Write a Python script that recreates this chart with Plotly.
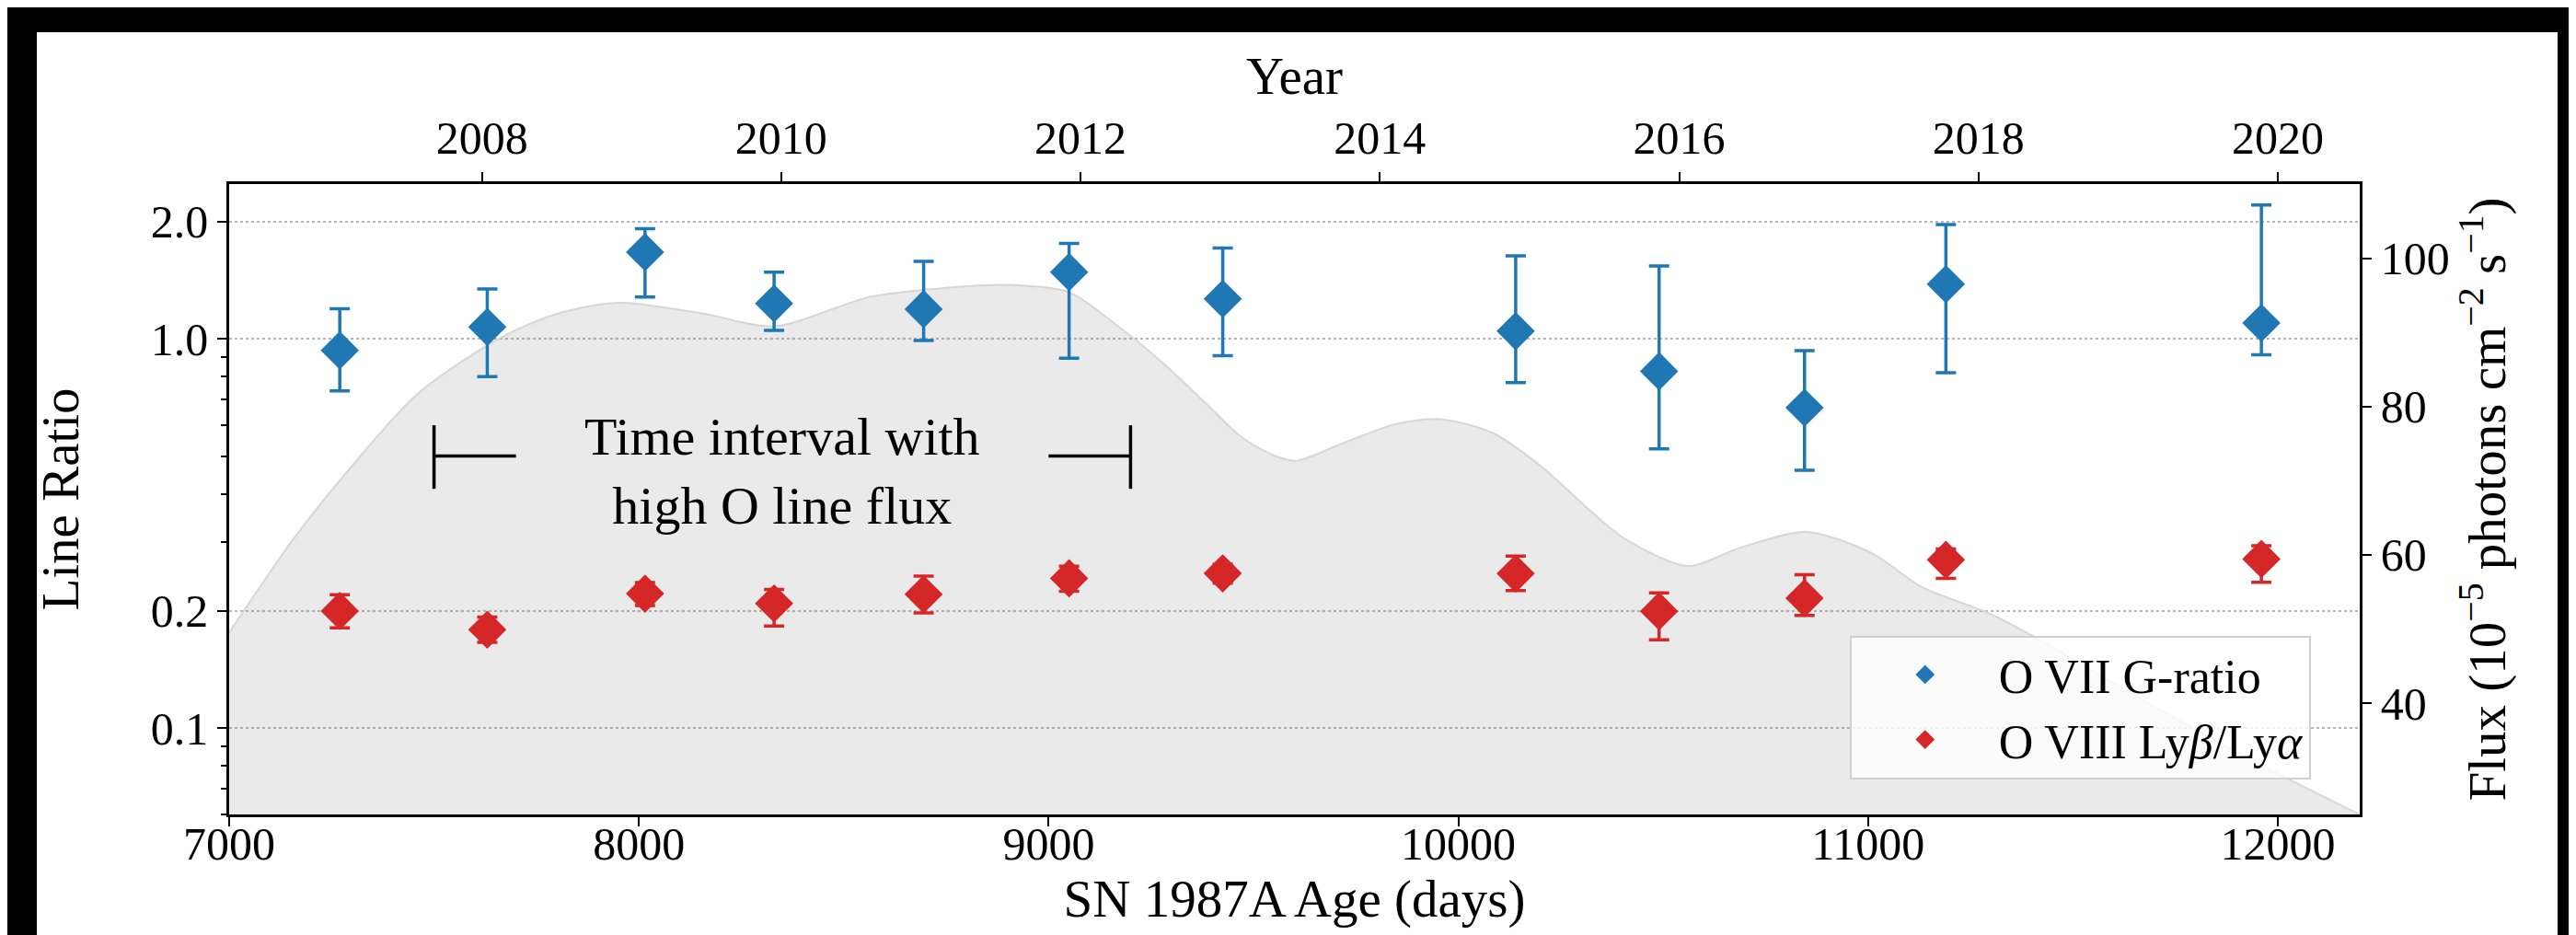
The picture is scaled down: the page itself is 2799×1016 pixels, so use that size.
import math
import plotly.graph_objects as go

# ---------------- data ----------------
age_days = [7270, 7630, 8015, 8330, 8695, 9050, 9425, 10140, 10490, 10845, 11190, 11960]

g_ratio = [0.935, 1.074, 1.671, 1.233, 1.193, 1.485, 1.268, 1.047, 0.826, 0.666, 1.383, 1.099]
g_err_plus = [0.26, 0.27, 0.25, 0.252, 0.389, 0.274, 0.444, 0.588, 0.713, 0.267, 0.585, 1.109]
g_err_minus = [0.20, 0.274, 0.39, 0.181, 0.202, 0.593, 0.363, 0.275, 0.304, 0.206, 0.564, 0.189]

lyb_lya = [0.200, 0.179, 0.2215, 0.209, 0.2207, 0.2426, 0.2497, 0.2496, 0.1997, 0.2157, 0.2706, 0.272]
l_err_plus = [0.020, 0.014, 0.015, 0.018, 0.025, 0.018, 0.014, 0.027, 0.023, 0.032, 0.018, 0.022]
l_err_minus = [0.019, 0.013, 0.015, 0.026, 0.023, 0.018, 0.014, 0.024, 0.031, 0.021, 0.028, 0.035]

flux_days = [7000, 7155, 7300, 7460, 7660, 7800, 7950, 8160, 8330, 8565, 8750, 8900,
             9050, 9170, 9270, 9390, 9470, 9550, 9605, 9725, 9845, 9955, 10085, 10205,
             10305, 10405, 10560, 10690, 10850, 11010, 11130, 11300, 11420, 11700, 12000, 12200]
flux_vals = [49.5, 62.0, 72.0, 81.7, 89.2, 92.5, 94.0, 92.5, 90.8, 94.8, 96.0, 96.4,
             95.4, 90.8, 86.3, 80.1, 75.9, 73.4, 72.7, 75.2, 77.6, 78.3, 76.4, 71.8,
             66.8, 62.2, 58.5, 61.0, 63.1, 60.2, 55.7, 52.0, 48.5, 39.5, 30.5, 25.0]

days_ticks = [7000, 8000, 9000, 10000, 11000, 12000]
year_ticks = [2008, 2010, 2012, 2014, 2016, 2018, 2020]
ratio_ticks = [0.1, 0.2, 1.0, 2.0]
ratio_ticklabels = ["0.1", "0.2", "1.0", "2.0"]
ratio_minor = [0.06, 0.07, 0.08, 0.09, 0.3, 0.4, 0.5, 0.6, 0.7, 0.8, 0.9]
flux_ticks = [40, 60, 80, 100]

sn_epoch_year = 1987.146
interval_start, interval_end = 7500, 9200

# ---------------- layout constants ----------------
W, H = 2799, 1016
ML, MR, MT, MB = 241, 243, 192, 139
FONT = "Liberation Serif"
BLUE, RED = "#1f77b4", "#d62728"
x_range = [7000, 12200]

year_days = [(y - sn_epoch_year) * 365.25 for y in year_ticks]

fig = go.Figure()

fig.add_trace(go.Scatter(
    x=flux_days, y=flux_vals, xaxis="x", yaxis="y",
    mode="lines", line=dict(color="#d6d6d6", width=2, shape="spline", smoothing=0.8),
    fill="tozeroy", fillcolor="rgba(125,125,125,0.16)", showlegend=False, hoverinfo="skip",
))

fig.add_trace(go.Scatter(
    x=age_days, y=g_ratio, xaxis="x2", yaxis="y2", mode="markers",
    name="O VII G-ratio",
    marker=dict(symbol="diamond", size=32, color=BLUE),
    error_y=dict(type="data", symmetric=False, array=g_err_plus, arrayminus=g_err_minus,
                 color=BLUE, thickness=3.5, width=11),
))
fig.add_trace(go.Scatter(
    x=age_days, y=lyb_lya, xaxis="x2", yaxis="y2", mode="markers",
    name="O VIII Ly<i>β</i>/Ly<i>α</i>",
    marker=dict(symbol="diamond", size=32, color=RED),
    error_y=dict(type="data", symmetric=False, array=l_err_plus, arrayminus=l_err_minus,
                 color=RED, thickness=3.5, width=11),
))

axis_common = dict(showline=True, linecolor="black", linewidth=2.5, ticks="outside",
                   ticklen=10, tickwidth=2, tickcolor="black", zeroline=False,
                   tickfont=dict(family=FONT, size=50, color="black"))

fig.update_layout(
    width=W, height=H,
    margin=dict(l=ML, r=MR, t=MT, b=MB, autoexpand=False),
    paper_bgcolor="white", plot_bgcolor="white",
    font=dict(family=FONT, size=50, color="black"),
    xaxis=dict(range=x_range, tickmode="array", tickvals=days_ticks,
               ticktext=[str(d) for d in days_ticks], showgrid=False, ticklabelstandoff=-24,
               title=dict(text="SN 1987A Age (days)", font=dict(family=FONT, size=57), standoff=0),
               **axis_common),
    xaxis2=dict(range=x_range, overlaying="x", side="top", anchor="y2", tickmode="array",
                tickvals=year_days, ticktext=[str(y) for y in year_ticks], showgrid=False,
                title=dict(text="Year", font=dict(family=FONT, size=57), standoff=2),
                **axis_common),
    yaxis=dict(range=[25, 110], side="right", tickmode="array", tickvals=flux_ticks, showgrid=False,
               title=dict(text="Flux (10<sup>−5</sup> photons cm<sup>−2</sup> s<sup>−1</sup>)",
                          font=dict(family=FONT, size=57), standoff=18),
               **axis_common),
    yaxis2=dict(type="log", overlaying="y", side="left", anchor="x2",
                range=[math.log10(0.06), math.log10(2.5)],
                tickmode="array", tickvals=ratio_ticks, ticktext=ratio_ticklabels,
                showgrid=True, gridcolor="#b5b5b5", gridwidth=2, griddash="dot",
                minor=dict(tickmode="array", tickvals=ratio_minor, ticks="outside",
                           ticklen=6, tickwidth=1.5, tickcolor="black", showgrid=False),
                title=dict(text="Line Ratio", font=dict(family=FONT, size=57), standoff=60),
                **axis_common),
    legend=dict(x=0.977, y=0.056, xanchor="right", yanchor="bottom",
                bgcolor="rgba(255,255,255,0.8)", bordercolor="#d0d0d0", borderwidth=2,
                font=dict(family=FONT, size=52, color="black"), itemwidth=150,
                traceorder="normal"),
    showlegend=True,
)

# time-interval bracket (data coordinates)
bracket_lo, bracket_mid, bracket_hi = 0.412, 0.5, 0.6
arm = 200
for x0, x1 in [(interval_start, interval_start + arm), (interval_end - arm, interval_end)]:
    fig.add_shape(type="line", xref="x", yref="y2", x0=x0, x1=x1, y0=bracket_mid, y1=bracket_mid,
                  line=dict(color="black", width=3.5))
for xv in [interval_start, interval_end]:
    fig.add_shape(type="line", xref="x", yref="y2", x0=xv, x1=xv, y0=bracket_lo, y1=bracket_hi,
                  line=dict(color="black", width=3.5))

fig.add_annotation(x=(interval_start + interval_end) / 2, y=math.log10(0.457), xref="x", yref="y2",
                   text="Time interval with<br>high O line flux", showarrow=False,
                   font=dict(family=FONT, size=58, color="black"), align="center")

# black frame strips of the original picture
pw, ph = W - ML - MR, H - MT - MB
def px(X): return (X - ML) / pw
def py(Y): return (H - MB - Y) / ph
for (X0, X1, Y0, Y1) in [(0, 32, 0, H), (2771, W, 0, H), (0, W, 0, 27)]:
    fig.add_shape(type="rect", xref="paper", yref="paper", x0=px(X0), x1=px(X1), y0=py(Y1), y1=py(Y0),
                  fillcolor="black", line=dict(width=0), layer="above")

fig.write_html("out.html")
